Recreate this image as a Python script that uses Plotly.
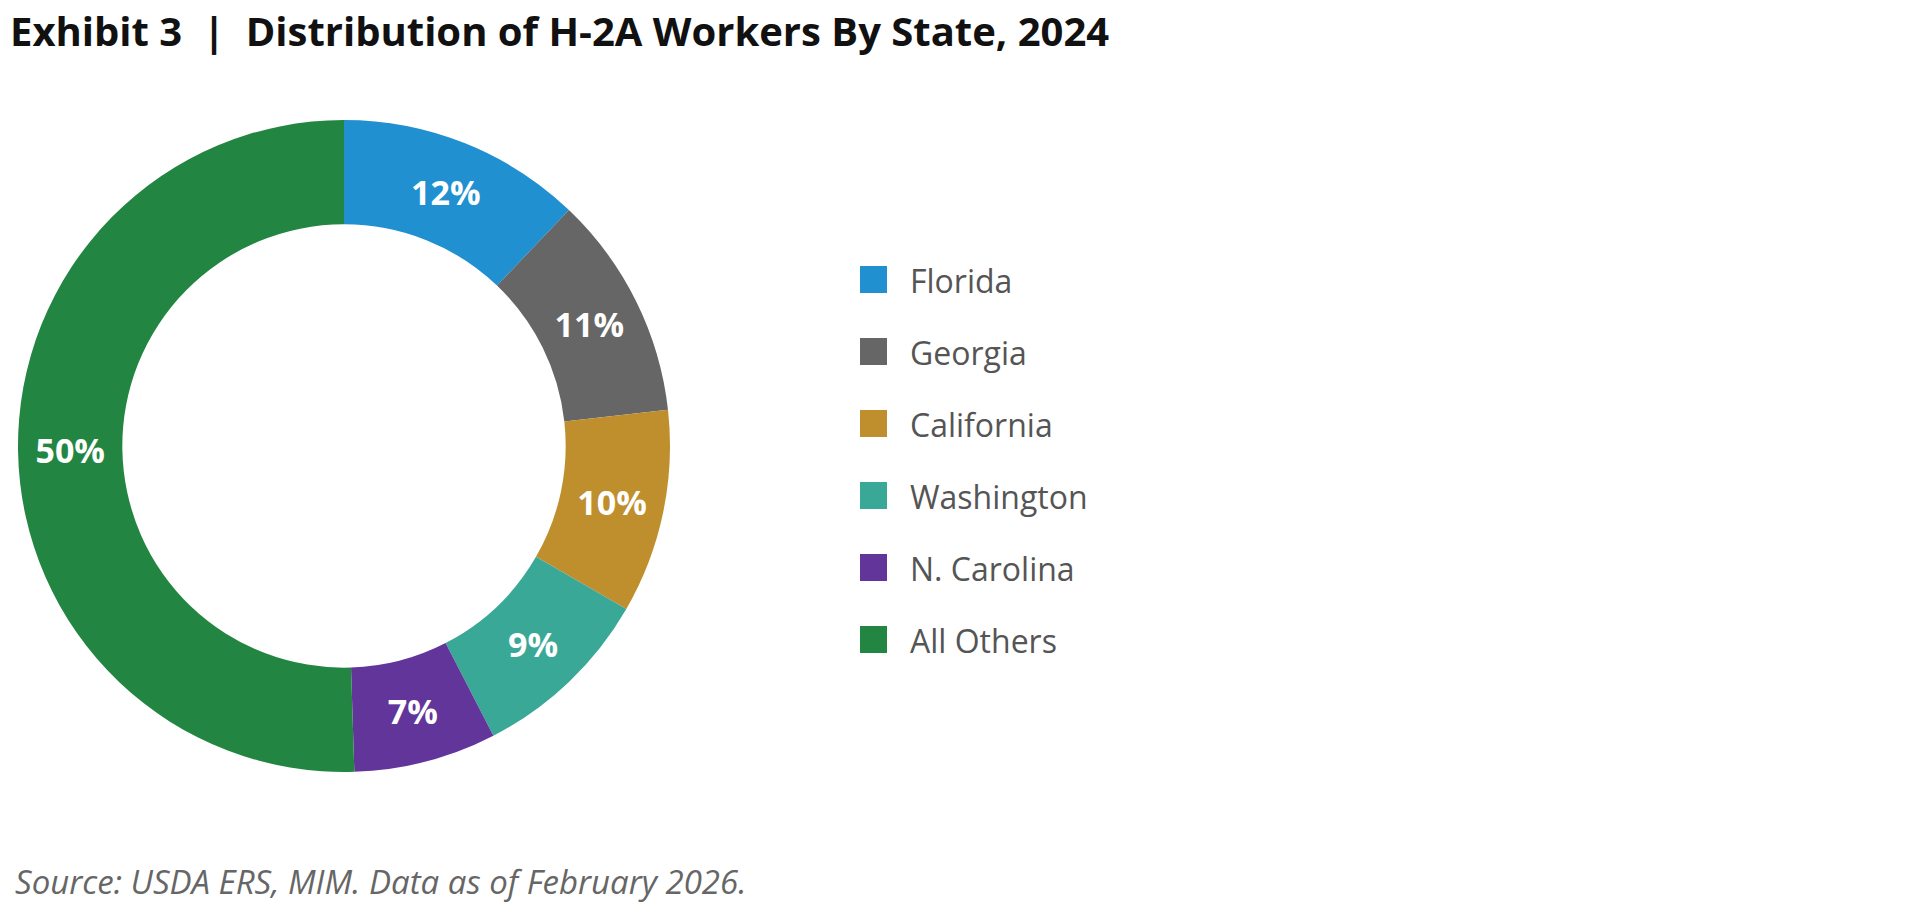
import plotly.graph_objects as go

labels = ["Florida", "Georgia", "California", "Washington", "N. Carolina", "All Others"]
values = [12, 11, 10, 9, 7, 50]
pct_text = ["12%", "11%", "10%", "9%", "7%", "50%"]
colors = ["#2190d0", "#666666", "#bf8f2e", "#3aa897", "#62359a", "#228642"]

W, H = 1913, 924
fig = go.Figure(go.Pie(
    labels=labels, values=values, text=pct_text, texttemplate="%{text}",
    textposition="inside", insidetextorientation="horizontal",
    textfont=dict(family="Open Sans", size=34, color="white", weight="bold"),
    marker=dict(colors=colors, line=dict(width=0)),
    hole=0.68, sort=False, direction="clockwise", rotation=0,
    domain=dict(x=[10/W, 662/W], y=[(H-764)/H, (H-112)/H]),
    showlegend=False,
))

# manual legend
lx, ly0, dy = 852, 272, 72
for i, (lab, c) in enumerate(zip(labels, colors)):
    y = ly0 + i*dy
    fig.add_shape(type="rect", xref="paper", yref="paper",
                  x0=lx/W, x1=(lx+27)/W, y0=1-(y+13)/H, y1=1-(y-14)/H,
                  fillcolor=c, line=dict(width=0))
    fig.add_annotation(xref="paper", yref="paper", x=(lx+48)/W, y=1-y/H,
                       text=lab, showarrow=False, xanchor="left", yanchor="middle",
                       font=dict(family="Open Sans", size=32, color="#555555"))

fig.add_annotation(xref="paper", yref="paper", x=0, y=1-22/H, xanchor="left", yanchor="middle",
                   text="Exhibit 3  |  Distribution of H-2A Workers By State, 2024", showarrow=False,
                   font=dict(family="Open Sans", size=40, color="#111111", weight="bold"))
fig.add_annotation(xref="paper", yref="paper", x=5/W, y=1-873/H, xanchor="left", yanchor="middle",
                   text="<i>Source: USDA ERS, MIM. Data as of February 2026.</i>", showarrow=False,
                   font=dict(family="Open Sans", size=33, color="#666666"))

fig.update_layout(width=W, height=H, margin=dict(l=0, r=0, t=0, b=0),
                  paper_bgcolor="white", plot_bgcolor="white")
fig.write_html("out.html")
